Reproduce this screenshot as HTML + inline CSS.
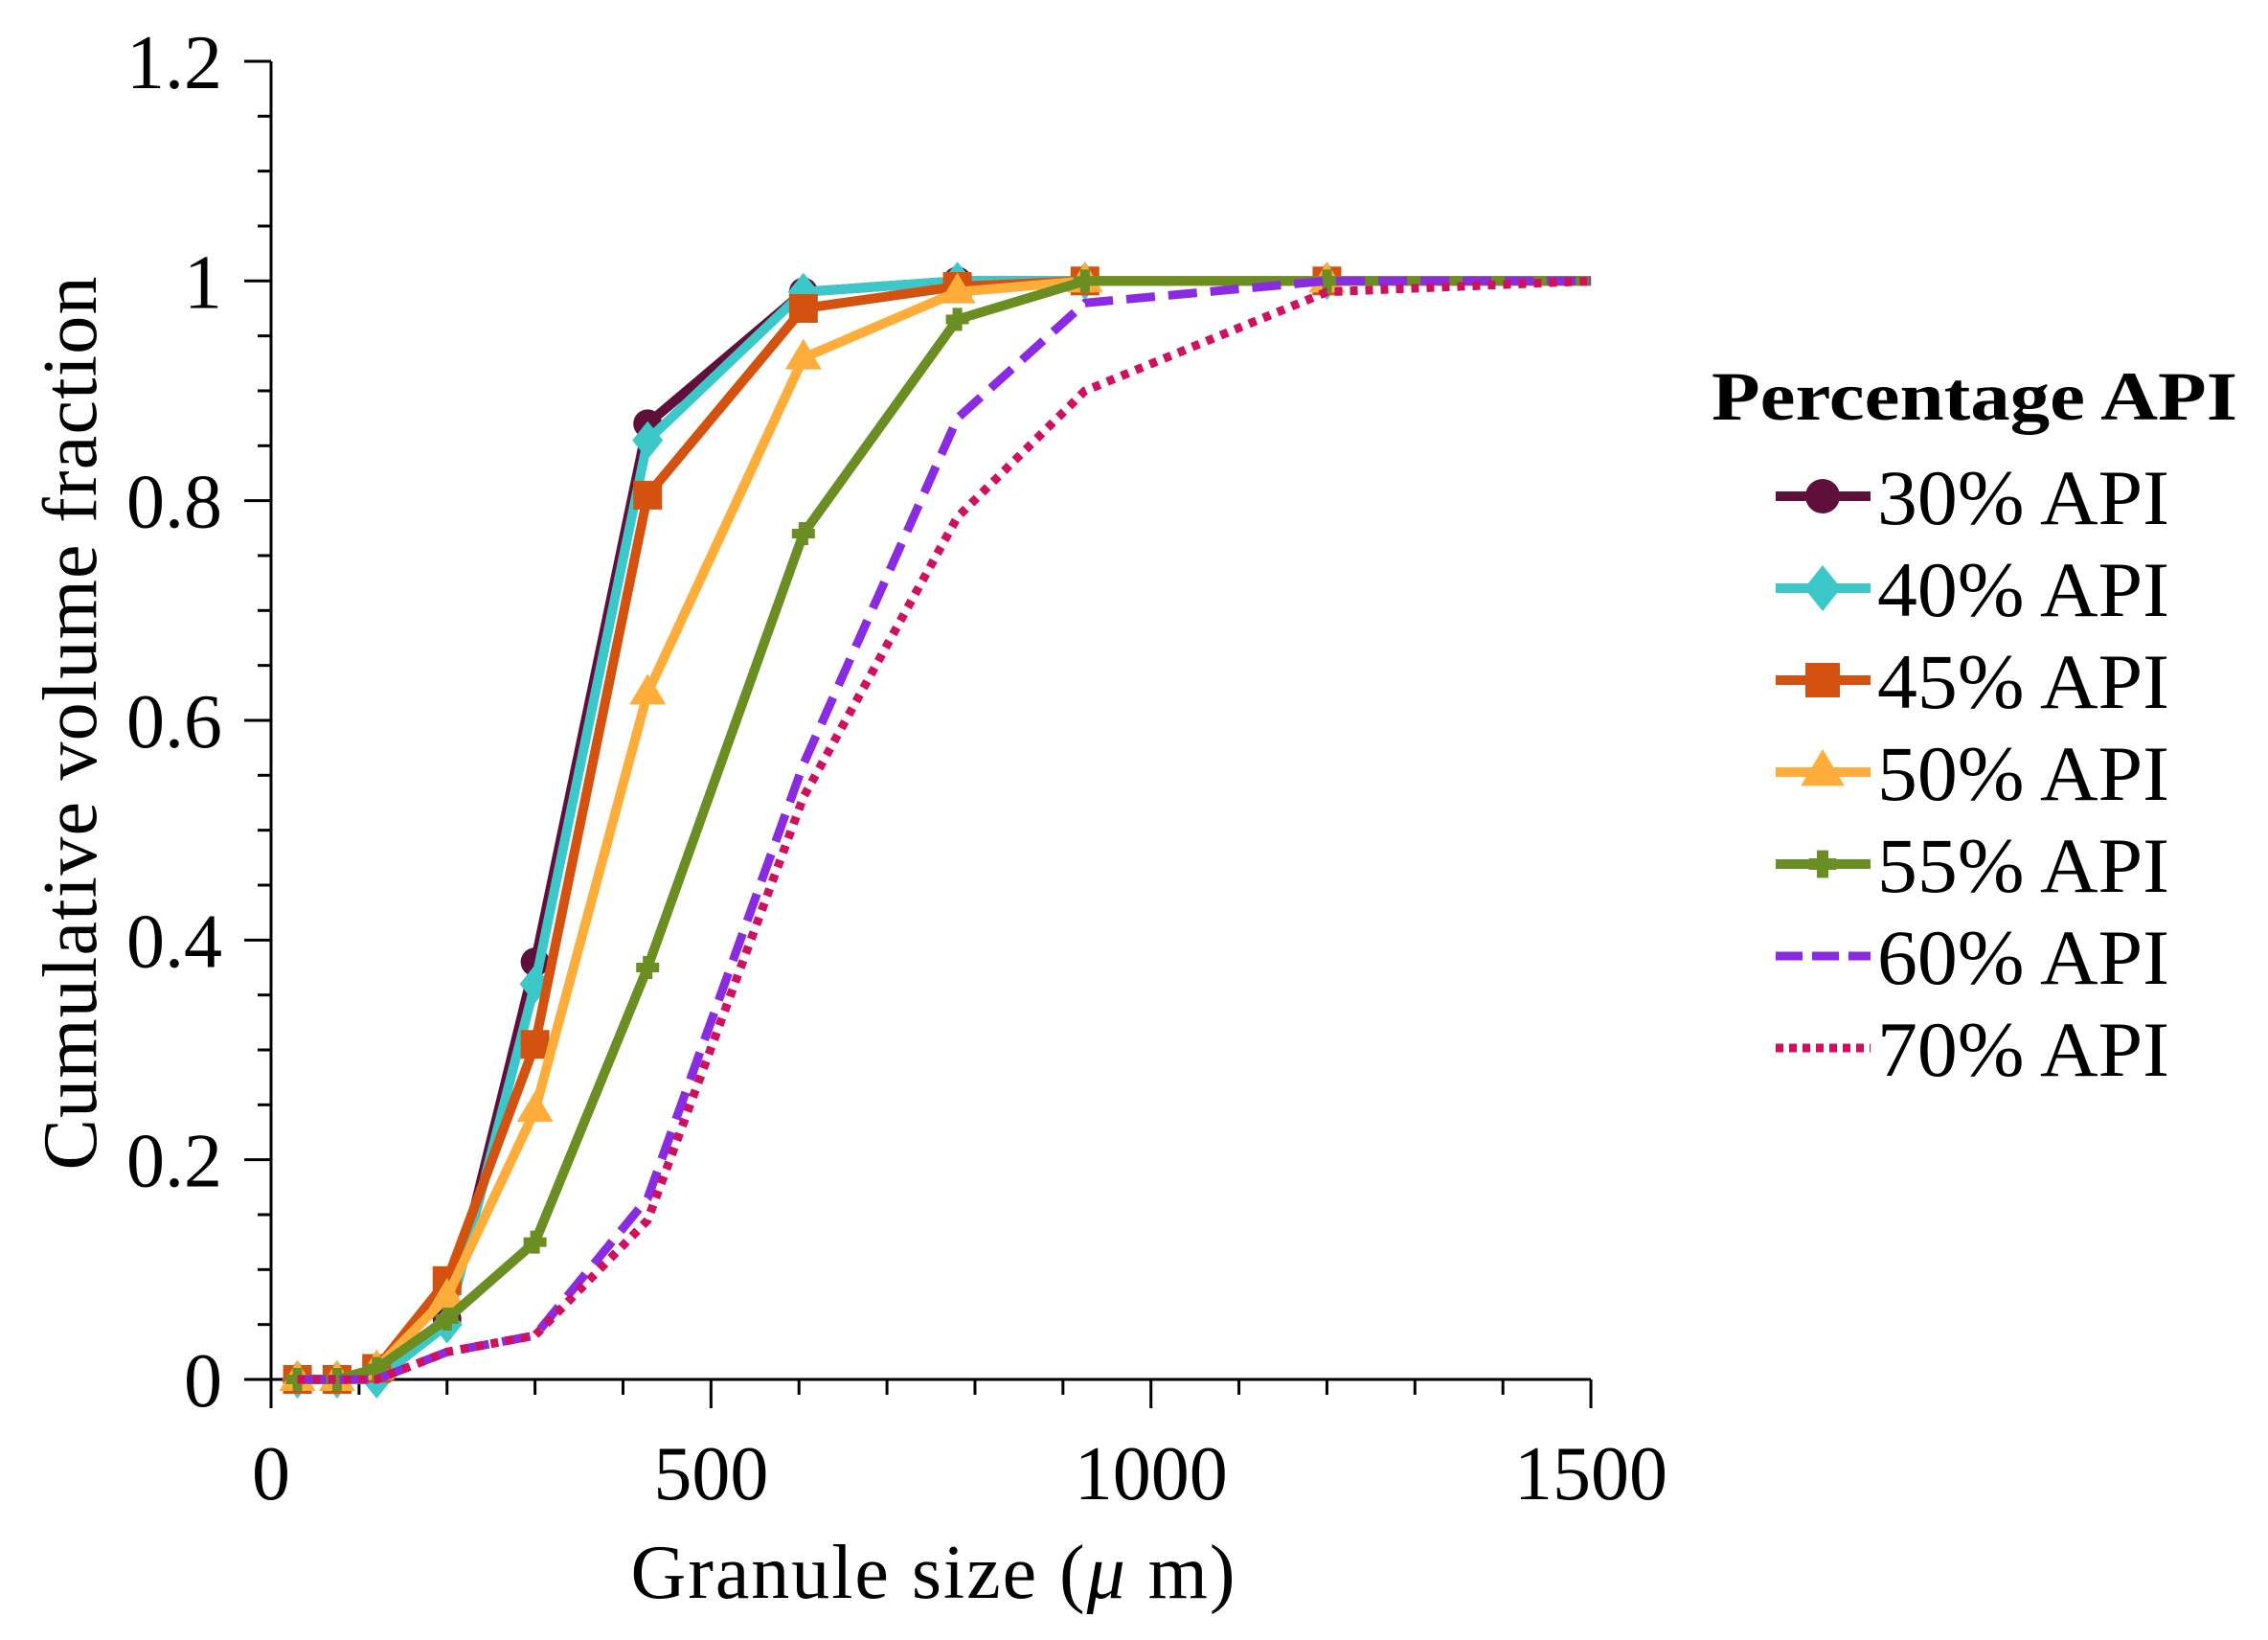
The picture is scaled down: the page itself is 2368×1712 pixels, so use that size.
<!DOCTYPE html>
<html><head><meta charset="utf-8"><style>html,body{margin:0;padding:0;background:#fff}svg{display:block}</style></head>
<body>
<svg id="s" width="2368" height="1712" xmlns="http://www.w3.org/2000/svg" font-family="'Liberation Serif', serif">
<rect width="2368" height="1712" fill="#fff"/>
<g id="axes" stroke="#000" stroke-width="3" fill="none"></g>
<g id="labels" font-size="80" fill="#000"></g>
<g id="series"></g>
<text x="974" y="1668" font-size="80" text-anchor="middle" textLength="631">Granule size (<tspan font-style="italic">μ</tspan> m)</text>
<text transform="translate(100,755) rotate(-90)" font-size="80" text-anchor="middle" textLength="933">Cumulative volume fraction</text>
<text x="1787" y="438" font-size="72" font-weight="bold" textLength="549" lengthAdjust="spacingAndGlyphs">Percentage API</text>
<g id="legend"></g>
</svg>
<script>
var NS="http://www.w3.org/2000/svg";
function X(v){return 283+v*0.9187;}
function Y(f){return 1440-f*1146.7;}
function el(p,t,a,txt){var e=document.createElementNS(NS,t);for(var k in a)e.setAttribute(k,a[k]);if(txt!==undefined)e.textContent=txt;p.appendChild(e);return e;}
var ax=document.getElementById('axes'),lb=document.getElementById('labels');
el(ax,'line',{x1:283,y1:64,x2:283,y2:1470});
el(ax,'line',{x1:283,y1:1440,x2:1661,y2:1440});
for(var i=0;i<=24;i++){var y=Y(i*0.05);var maj=i%4==0;el(ax,'line',{x1:maj?255:269,y1:y,x2:283,y2:y});}
for(var i=0;i<=15;i++){var x=X(i*100);var maj=i%5==0;el(ax,'line',{x1:x,y1:1440,x2:x,y2:maj?1470:1456});}
['0','0.2','0.4','0.6','0.8','1','1.2'].forEach(function(t,i){el(lb,'text',{x:232,y:Y(i*0.2)+28,'text-anchor':'end'},t);});
['0','500','1000','1500'].forEach(function(t,i){el(lb,'text',{x:X(i*500),y:1565,'text-anchor':'middle'},t);});
var xs=[30,75,120,200,300,428,605,780,925,1200,1500];
var S=[
 {c:'#5f0f3a',m:'circle',d:[0,0,0.01,0.055,0.38,0.87,0.99,1,1,1,1]},
 {c:'#3cc8c8',m:'diamond',d:[0,0,0,0.05,0.36,0.855,0.99,1,1,1,1]},
 {c:'#d4520f',m:'square',d:[0,0,0.01,0.09,0.305,0.805,0.975,0.995,1,1,1]},
 {c:'#ffad3a',m:'tri',d:[0,0,0.01,0.075,0.245,0.625,0.93,0.99,1,1,1]},
 {c:'#6b8e23',m:'plus',d:[0,0,0.01,0.055,0.125,0.375,0.77,0.965,1,1,1]},
 {c:'#8a2be2',dash:'30 14',d:[0,0,0,0.025,0.04,0.165,0.56,0.875,0.98,1,1]},
 {c:'#d0105f',dash:'8 8',d:[0,0,0,0.025,0.04,0.145,0.53,0.785,0.9,0.99,1]}
];
function marker(g,m,x,y,c,s){s=s||1;
 if(m=='circle')el(g,'circle',{cx:x,cy:y,r:15*s,fill:c});
 else if(m=='diamond')el(g,'polygon',{points:[x,y-20*s,x+16*s,y,x,y+20*s,x-16*s,y].join(' '),fill:c});
 else if(m=='square')el(g,'rect',{x:x-15*s,y:y-15*s,width:30*s,height:30*s,fill:c});
 else if(m=='tri')el(g,'polygon',{points:[x,y-20*s,x+19*s,y+12*s,x-19*s,y+12*s].join(' '),fill:c});
 else if(m=='plus'){el(g,'rect',{x:x-12*s,y:y-5*s,width:24*s,height:10*s,fill:c});el(g,'rect',{x:x-5*s,y:y-12*s,width:10*s,height:24*s,fill:c});}
}
var sg=document.getElementById('series'),lg=document.getElementById('legend');
S.forEach(function(s,k){
 var pts=xs.map(function(v,i){return X(v)+','+Y(s.d[i]);}).join(' ');
 var a={points:pts,fill:'none',stroke:s.c,'stroke-width':s.dash?9:10,'stroke-linejoin':'round'};
 if(s.dash)a['stroke-dasharray']=s.dash;
 el(sg,'polyline',a);
 if(s.m)for(var i=0;i<10;i++)marker(sg,s.m,X(xs[i]),Y(s.d[i]),s.c);
 var ly=518+k*96;
 var la={x1:1854,y1:ly,x2:1953,y2:ly,stroke:s.c,'stroke-width':s.dash?9:10};
 if(s.dash)la['stroke-dasharray']=s.dash=='8 8'?'8 6':'28 10';
 el(lg,'line',la);
 if(s.m)marker(lg,s.m,1903,ly,s.c,1.2);
 el(lg,'text',{x:1960,y:547+k*96,'font-size':82,textLength:305,lengthAdjust:'spacingAndGlyphs'},['30','40','45','50','55','60','70'][k]+'% API');
});
</script>
</body></html>
